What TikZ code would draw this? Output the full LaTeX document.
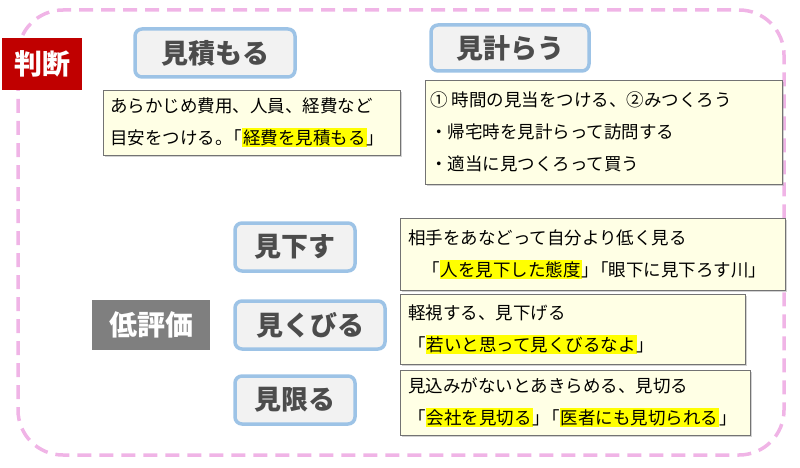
\documentclass[tikz,border=0pt]{standalone}
\usepackage{fontspec}
\setmainfont{Noto Sans CJK JP}
\usetikzlibrary{shadows}
\definecolor{pinkd}{HTML}{F0B4E6}
\definecolor{redb}{HTML}{C00000}
\definecolor{grayb}{HTML}{7F7F7F}
\definecolor{wordfill}{HTML}{F2F2F2}
\definecolor{wordline}{HTML}{9DC3E6}
\definecolor{cream}{HTML}{FFFFE5}
\definecolor{hl}{HTML}{FFFF00}
\newcommand{\hlt}[1]{{\setlength{\fboxsep}{1pt}\colorbox{hl}{#1}}}
\tikzset{
 wordbox/.style={draw=wordline,line width=3.5pt,fill=wordfill,rounded corners=7pt,font=\bfseries\fontsize{27}{30}\selectfont,text=black!70,inner sep=0pt},
 notebox/.style={draw=black!55,line width=0.6pt,fill=cream,drop shadow={shadow xshift=2pt,shadow yshift=-2pt,fill=black!35},inner sep=0pt},
 notetext/.style={anchor=west,font=\fontsize{17.5}{32}\selectfont,align=left,inner sep=0pt},
 tag/.style={text=white,font=\bfseries\fontsize{28}{32}\selectfont,inner sep=0pt}
}
\begin{document}
\begin{tikzpicture}[x=1pt,y=-1pt]
\useasboundingbox (0,0) rectangle (800,468);
\draw[pinkd,line width=3.5pt,dash pattern=on 14pt off 8pt,rounded corners=45pt] (18,10) rectangle (784,455);
\node[tag,fill=redb,minimum width=80pt,minimum height=52pt] (judge) at (42,64) {判断};
\node[tag,fill=grayb,minimum width=118pt,minimum height=50pt] (low) at (151,325) {低評価};
% word boxes
\node[wordbox,minimum width=160pt,minimum height=48pt] (w1) at (215,53) {見積もる};
\node[wordbox,minimum width=158pt,minimum height=46pt] (w2) at (510,48) {見計らう};
\node[wordbox,minimum width=120pt,minimum height=48pt] (w3) at (295,247) {見下す};
\node[wordbox,minimum width=150pt,minimum height=48pt] (w4) at (310,325) {見くびる};
\node[wordbox,minimum width=120pt,minimum height=48pt] (w5) at (295,400) {見限る};
% note boxes
\node[notebox,minimum width=297pt,minimum height=65pt] (n1) at (251.5,122.5) {};
\node[notetext] (t1) at (110,122) {あらかじめ費用、人員、経費など\\目安をつける。\kern-8pt「\hlt{経費を見積もる}」};
\node[notebox,minimum width=357pt,minimum height=104pt] (n2) at (603.5,132) {};
\node[notetext] (t2) at (430,132) {① 時間の見当をつける、②みつくろう\\・帰宅時を見計らって訪問する\\・適当に見つくろって買う};
\node[notebox,minimum width=385pt,minimum height=72pt] (n3) at (592.5,254) {};
\node[notetext] (t3) at (408,254) {相手をあなどって自分より低く見る\\\hspace{14pt}「\hlt{人を見下した態度}」\kern-8pt「眼下に見下ろす川」};
\node[notebox,minimum width=345pt,minimum height=70pt] (n4) at (572.5,329) {};
\node[notetext] (t4) at (408,329) {軽視する、見下げる\\「\hlt{若いと思って見くびるなよ}」};
\node[notebox,minimum width=350pt,minimum height=65pt] (n5) at (575,402.5) {};
\node[notetext] (t5) at (408,402) {見込みがないとあきらめる、見切る\\「\hlt{会社を見切る}」\kern-8pt「\hlt{医者にも見切られる}」};
\end{tikzpicture}
\end{document}
